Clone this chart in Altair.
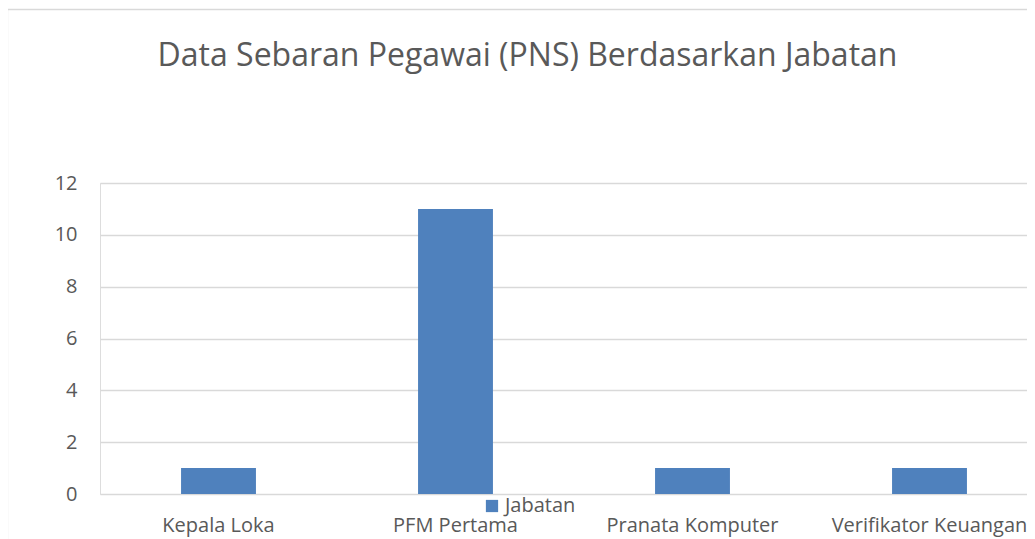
import altair as alt
import pandas as pd

categories = ["Kepala Loka", "PFM Pertama", "Pranata Komputer", "Verifikator Keuangan"]
values = [1, 11, 1, 1]
series_name = "Jabatan"
title_text = "Data Sebaran Pegawai (PNS) Berdasarkan Jabatan"

df = pd.DataFrame({"Jabatan": categories, "Jumlah": values, "Seri": [series_name] * len(categories)})

FONT = "Open Sans"
GRAY = "#595959"
BLUE = "#4f81bd"
FS = 20

bars = alt.Chart(df).mark_bar(color=BLUE).encode(
    x=alt.X(
        "Jabatan:N",
        sort=categories,
        title=None,
        scale=alt.Scale(range=[0, 948], paddingInner=0.684, paddingOuter=0.342),
        axis=alt.Axis(
            labelAngle=0,
            ticks=False,
            domain=False,
            labelPadding=21,
            labelFontSize=FS,
            labelFont=FONT,
            labelColor=GRAY,
            labelOverlap=False,
            labelBound=False,
            labelFlush=False,
            labelLimit=400,
        ),
    ),
    y=alt.Y(
        "Jumlah:Q",
        title=None,
        scale=alt.Scale(domain=[0, 12], nice=False),
        axis=alt.Axis(
            values=[0, 2, 4, 6, 8, 10, 12],
            ticks=False,
            domain=False,
            grid=True,
            gridColor="#d9d9d9",
            gridWidth=1.3,
            labelPadding=23,
            labelFontSize=FS,
            labelFont=FONT,
            labelColor=GRAY,
        ),
    ),
    fill=alt.Fill(
        "Seri:N",
        scale=alt.Scale(range=[BLUE]),
        legend=alt.Legend(
            title=None,
            orient="none",
            legendX=382,
            legendY=313,
            symbolType="square",
            symbolSize=150,
            symbolStrokeWidth=0,
            labelFontSize=FS,
            labelFont=FONT,
            labelColor=GRAY,
            labelOffset=3,
        ),
    ),
)

border = alt.Chart(pd.DataFrame({"b": [0]})).mark_rect(
    fillOpacity=0, stroke="#d9d9d9", strokeWidth=1.3
).encode(
    x=alt.value(-92.5), x2=alt.value(1000), y=alt.value(-173.5), y2=alt.value(400)
)

chart = alt.layer(border, bars).properties(
    width=927,
    height=311,
    title=alt.TitleParams(
        title_text,
        fontSize=32,
        font=FONT,
        fontWeight="normal",
        color=GRAY,
        anchor="middle",
        dx=-36,
        offset=-64,
    ),
    autosize=alt.AutoSizeParams(type="none"),
    padding={"left": 92, "top": 175, "right": 0, "bottom": 45},
).configure_view(stroke=None).configure(background="white")

chart.save("out.html", embed_options={"renderer": "svg", "actions": False})
